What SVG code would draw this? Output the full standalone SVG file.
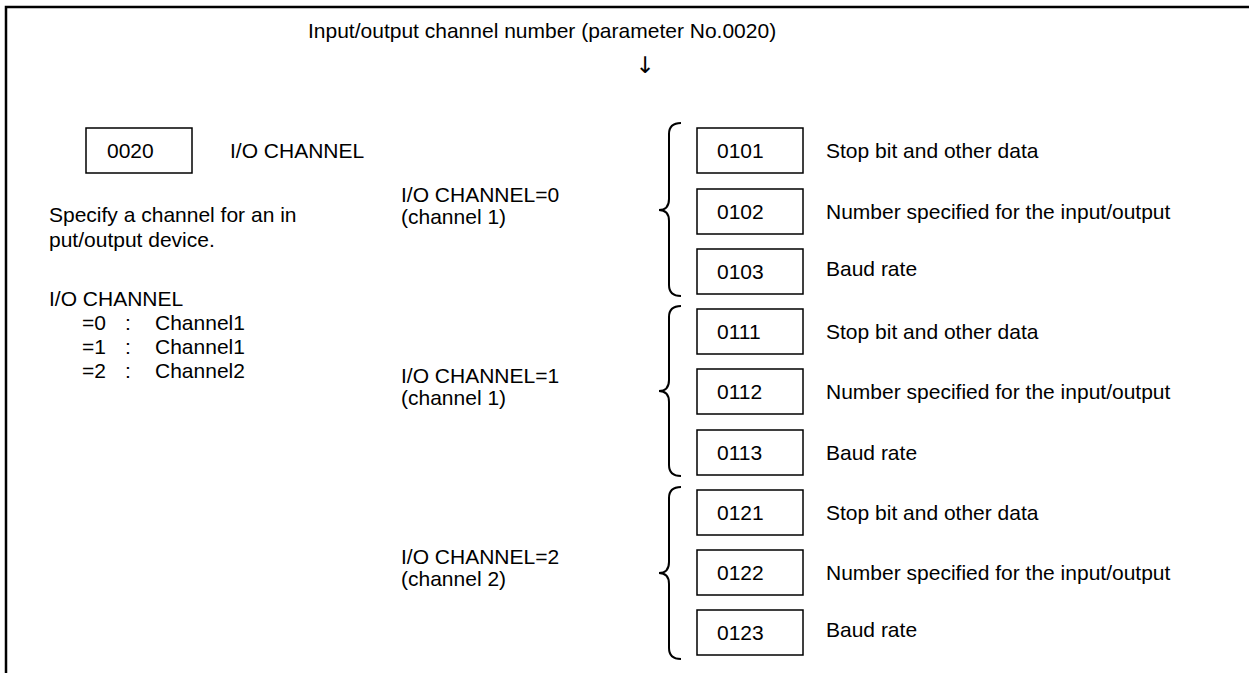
<svg xmlns="http://www.w3.org/2000/svg" width="1249" height="673" viewBox="0 0 1249 673">
<style>
text{font-family:"Liberation Sans",Arial,sans-serif;font-size:21px;fill:#000}
.arrow{font-family:"DejaVu Sans",sans-serif;font-size:23px}
.box{fill:#fff;stroke:#000;stroke-width:1.5}
.brace{fill:none;stroke:#000;stroke-width:2}
.frame{fill:none;stroke:#000;stroke-width:2.5}
</style>
<rect width="1249" height="673" fill="#fff"/>
<path class="frame" d="M6,673 L6,7 L1249,7"/>
<text x="308" y="38">Input/output channel number (parameter No.0020)</text>
<text class="arrow" x="645" y="73" text-anchor="middle">↓</text>
<g id="n0020">
<rect class="box" x="86" y="128" width="106" height="45"/>
<text x="107" y="158">0020</text>
</g>
<text x="230" y="158">I/O CHANNEL</text>
<text x="49" y="222">Specify a channel for an in</text>
<text x="49" y="247">put/output device.</text>
<text x="49" y="306">I/O CHANNEL</text>
<text x="82" y="330">=0</text><text x="125" y="330">:</text><text x="155" y="330">Channel1</text>
<text x="82" y="354">=1</text><text x="125" y="354">:</text><text x="155" y="354">Channel1</text>
<text x="82" y="378">=2</text><text x="125" y="378">:</text><text x="155" y="378">Channel2</text>
<g id="ch0">
<text x="401" y="202">I/O CHANNEL=0</text>
<text x="401" y="224">(channel 1)</text>
</g>
<g id="ch1">
<text x="401" y="383">I/O CHANNEL=1</text>
<text x="401" y="405">(channel 1)</text>
</g>
<g id="ch2">
<text x="401" y="564">I/O CHANNEL=2</text>
<text x="401" y="586">(channel 2)</text>
</g>
<g id="connectors">
<path class="brace" d="M681,123 Q669,123 669,134 L669,199 Q669,210 659,210 Q669,210 669,221 L669,285 Q669,296 681,296"/>
<path class="brace" d="M681,306 Q669,306 669,317 L669,380 Q669,391 659,391 Q669,391 669,402 L669,465 Q669,476 681,476"/>
<path class="brace" d="M681,487 Q669,487 669,498 L669,562 Q669,573 659,573 Q669,573 669,584 L669,648 Q669,659 681,659"/>
</g>
<g id="n0101"><rect class="box" x="697" y="128" width="106" height="45"/><text x="717" y="158">0101</text><text x="826" y="158">Stop bit and other data</text></g>
<g id="n0102"><rect class="box" x="697" y="189" width="106" height="45"/><text x="717" y="219">0102</text><text x="826" y="219">Number specified for the input/output</text></g>
<g id="n0103"><rect class="box" x="697" y="249" width="106" height="45"/><text x="717" y="279">0103</text><text x="826" y="276">Baud rate</text></g>
<g id="n0111"><rect class="box" x="697" y="309" width="106" height="45"/><text x="717" y="339">0111</text><text x="826" y="339">Stop bit and other data</text></g>
<g id="n0112"><rect class="box" x="697" y="369" width="106" height="45"/><text x="717" y="399">0112</text><text x="826" y="399">Number specified for the input/output</text></g>
<g id="n0113"><rect class="box" x="697" y="430" width="106" height="45"/><text x="717" y="460">0113</text><text x="826" y="460">Baud rate</text></g>
<g id="n0121"><rect class="box" x="697" y="490" width="106" height="45"/><text x="717" y="520">0121</text><text x="826" y="520">Stop bit and other data</text></g>
<g id="n0122"><rect class="box" x="697" y="550" width="106" height="45"/><text x="717" y="580">0122</text><text x="826" y="580">Number specified for the input/output</text></g>
<g id="n0123"><rect class="box" x="697" y="610" width="106" height="45"/><text x="717" y="640">0123</text><text x="826" y="637">Baud rate</text></g>
</svg>
